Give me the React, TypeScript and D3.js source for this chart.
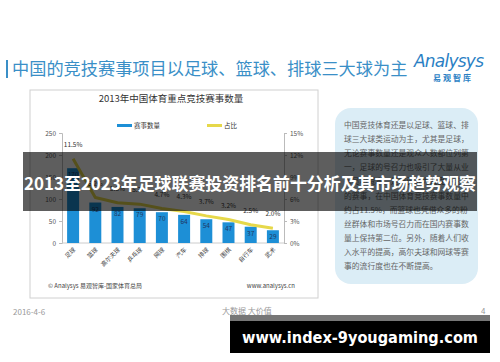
import React, { useRef, useEffect } from 'react';
import * as d3 from 'd3';

const categories = ['足球', '篮球', '高尔夫球', '乒乓球', '网球', '汽车', '排球', '围棋', '自行车', '武术'];
const counts = [170, 92, 82, 79, 70, 64, 54, 47, 37, 29];
const shares = [11.5, 6.2, 5.5, 5.3, 4.7, 4.3, 3.7, 3.2, 2.5, 2.0];
const leftTicks = [0, 50, 100, 150, 200, 250];
const rightTicks = [0, 3, 6, 9, 12, 15];
const panelLines = [
  '中国竞技体育还是以足球、篮球、排',
  '球三大球类运动为主，尤其是足球，',
  '无论赛事数量还是观众人数都位列第',
  '一，足球的号召力也吸引了大量从业',
  '人员和资本，足球已成为最受关注',
  '的赛事，在中国体育竞技赛事数量中',
  '约占11.5%，而篮球也凭借众多的粉',
  '丝群体和市场号召力而在国内赛事数',
  '量上保持第二位。另外，随着人们收',
  '入水平的提高，高尔夫球和网球等赛',
  '事的流行度也在不断提高。',
];

const CJK = '"Noto Sans CJK SC", "Noto Sans", sans-serif';

const App = () => {
  const ref = useRef(null);

  useEffect(() => {
    const svg = d3.select(ref.current);
    svg.selectAll('*').remove();
    svg.attr('width', 500).attr('height', 362).style('font-family', CJK);

    svg.append('rect').attr('width', 500).attr('height', 362).attr('fill', '#fff');

    // slide title
    svg.append('rect').attr('x', 6).attr('y', 60).attr('width', 2).attr('height', 18).attr('fill', '#3a8fc7');
    svg.append('text').attr('x', 12).attr('y', 75).attr('font-size', 17.2).attr('fill', '#3a8fc7')
      .text('中国的竞技赛事项目以足球、篮球、排球三大球为主');

    // logo
    svg.append('text').attr('x', 414).attr('y', 67).attr('font-size', 17).attr('font-style', 'italic')
      .attr('font-family', '"DejaVu Sans", sans-serif').attr('fill', '#2a7fc4').attr('textLength', 70)
      .text('Analysys');
    svg.append('text').attr('x', 453).attr('y', 81).attr('font-size', 8).attr('font-weight', 'bold')
      .attr('text-anchor', 'middle').attr('letter-spacing', 2).attr('fill', '#2a7fc4').text('易观智库');

    // chart box
    svg.append('rect').attr('x', 30).attr('y', 90).attr('width', 288).attr('height', 208)
      .attr('fill', '#fff').attr('stroke', '#d0d0d0');
    svg.append('text').attr('x', 171).attr('y', 102).attr('text-anchor', 'middle')
      .attr('font-size', 9.5).attr('fill', '#333').text('2013年中国体育重点竞技赛事数量');

    // legend
    svg.append('rect').attr('x', 117).attr('y', 124).attr('width', 15).attr('height', 3).attr('fill', '#1d8fd6');
    svg.append('text').attr('x', 134).attr('y', 127.5).attr('font-size', 6.5).attr('fill', '#333').text('赛事数量');
    svg.append('rect').attr('x', 207).attr('y', 124).attr('width', 15).attr('height', 3).attr('fill', '#e6d84a');
    svg.append('text').attr('x', 224).attr('y', 127.5).attr('font-size', 6.5).attr('fill', '#333').text('占比');

    const x = d3.scaleBand().domain(categories).range([62, 284]).paddingInner(0.46).paddingOuter(0.23);
    const y = d3.scaleLinear().domain([0, 250]).range([243, 133]);
    const y2 = d3.scaleLinear().domain([0, 15]).range([243, 133]);

    // axes
    const left = svg.append('g').attr('transform', 'translate(62,0)')
      .call(d3.axisLeft(y).tickValues(leftTicks).tickSize(3).tickPadding(3));
    const right = svg.append('g').attr('transform', 'translate(284,0)')
      .call(d3.axisRight(y2).tickValues(rightTicks).tickFormat(d => d + '%').tickSize(3).tickPadding(3));
    [left, right].forEach(g => {
      g.select('.domain').attr('stroke', '#bbb');
      g.selectAll('.tick line').attr('stroke', '#bbb');
      g.selectAll('.tick text').attr('fill', '#555').attr('font-size', 6.5).attr('font-family', CJK);
    });
    svg.append('line').attr('x1', 62).attr('x2', 284).attr('y1', y(0)).attr('y2', y(0)).attr('stroke', '#ccc');

    // bars
    svg.append('g').selectAll('rect').data(counts).join('rect')
      .attr('x', (d, i) => x(categories[i]))
      .attr('y', d => y(d))
      .attr('width', x.bandwidth())
      .attr('height', d => y(0) - y(d))
      .attr('fill', '#1d8fd6');
    svg.append('g').selectAll('text').data(counts).join('text')
      .attr('x', (d, i) => x(categories[i]) + x.bandwidth() / 2)
      .attr('y', d => y(d) + 9)
      .attr('text-anchor', 'middle').attr('font-size', 6.5).attr('fill', '#1f3864')
      .text(d => d);

    // share line
    const line = d3.line<number>()
      .x((d, i) => x(categories[i]) + x.bandwidth() / 2)
      .y(d => y2(d));
    svg.append('path').datum(shares).attr('d', line).attr('fill', 'none')
      .attr('stroke', '#e6d84a').attr('stroke-width', 3).attr('stroke-linejoin', 'round');
    svg.append('g').selectAll('text').data(shares).join('text')
      .attr('x', (d, i) => x(categories[i]) + x.bandwidth() / 2)
      .attr('y', d => y2(d) - 12)
      .attr('text-anchor', 'middle').attr('font-size', 6.5).attr('fill', '#333')
      .text(d => d.toFixed(1) + '%');

    // category labels
    svg.append('g').selectAll('text').data(categories).join('text')
      .attr('transform', d => `translate(${x(d) + x.bandwidth() / 2 + 3},250) rotate(-45)`)
      .attr('text-anchor', 'end').attr('font-size', 6).attr('fill', '#444')
      .text(d => d);

    // source
    svg.append('text').attr('x', 48).attr('y', 288).attr('font-size', 6).attr('fill', '#444')
      .text('© Analysys 易观智库-国家体育总局');
    svg.append('text').attr('x', 295).attr('y', 288).attr('text-anchor', 'end').attr('font-size', 6)
      .attr('fill', '#444').text('www.analysys.cn');

    // side panel
    svg.append('rect').attr('x', 335).attr('y', 108).attr('width', 143).attr('height', 176).attr('rx', 16)
      .attr('fill', '#dbedf6');
    svg.append('g').selectAll('text').data(panelLines).join('text')
      .attr('x', 344).attr('y', (d, i) => 128 + i * 14.1)
      .attr('font-size', 7.8).attr('fill', '#666').text(d => d);

    // footer
    svg.append('text').attr('x', 13).attr('y', 315).attr('font-size', 8).attr('fill', '#999').text('2016-4-6');
    svg.append('text').attr('x', 222).attr('y', 314).attr('font-size', 8).attr('fill', '#999').text('大数据  大价值');
    svg.append('text').attr('x', 481).attr('y', 314).attr('font-size', 8).attr('fill', '#999').text('4');

    // overlay title band
    svg.append('rect').attr('x', 23).attr('y', 152).attr('width', 454).attr('height', 59)
      .attr('fill', 'rgba(0,0,0,0.63)');
    svg.append('text').attr('x', 250).attr('y', 190).attr('text-anchor', 'middle')
      .attr('font-size', 17.5).attr('font-weight', 'bold').attr('fill', '#fff')
      .attr('textLength', 452).attr('lengthAdjust', 'spacingAndGlyphs')
      .text('2013至2023年足球联赛投资排名前十分析及其市场趋势观察');

    // watermark
    svg.append('rect').attr('x', 230).attr('y', 315).attr('width', 260).attr('height', 6).attr('fill', '#777');
    svg.append('rect').attr('x', 230).attr('y', 321).attr('width', 260).attr('height', 32).attr('fill', '#000');
    svg.append('text').attr('x', 360).attr('y', 343).attr('text-anchor', 'middle')
      .attr('font-size', 16).attr('font-weight', 'bold').attr('fill', '#fff')
      .attr('font-family', '"DejaVu Sans", sans-serif')
      .attr('textLength', 236).attr('lengthAdjust', 'spacingAndGlyphs')
      .text('www.index-9yougaming.com');
  }, []);

  return <svg ref={ref} style={{ position: 'absolute', left: 0, top: 0 }}></svg>;
};

export default App;
